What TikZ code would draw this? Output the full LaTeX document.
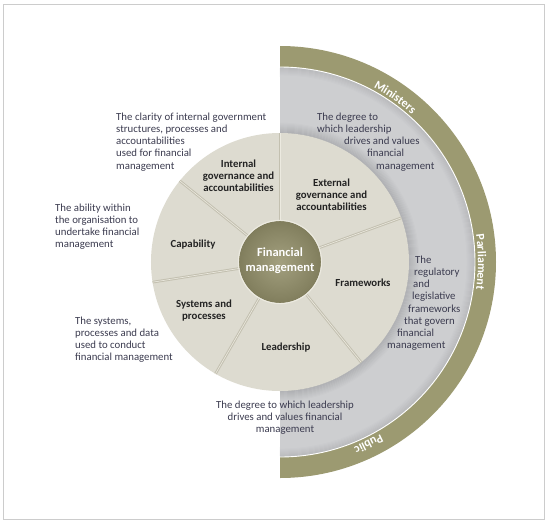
\documentclass[tikz,border=0pt]{standalone}
\usepackage{fontspec}
\setmainfont{Carlito}
\usetikzlibrary{decorations.text}
\definecolor{ringc}{HTML}{9C9A71}
\definecolor{greyc}{HTML}{CDCED0}
\definecolor{greydk}{HTML}{A9AAAD}
\definecolor{piec}{HTML}{DDDBD0}
\definecolor{divc}{HTML}{C3C0B0}
\definecolor{framec}{HTML}{CCCCCC}
\definecolor{descc}{HTML}{3B3B4F}
\definecolor{labc}{HTML}{232323}
\definecolor{fmA}{HTML}{A3A07F}
\definecolor{fmB}{HTML}{858261}
\definecolor{fmC}{HTML}{5E5B3C}
\definecolor{haloc}{HTML}{ECEAE0}
\pgfdeclareradialshading{fmshade}{\pgfpoint{0bp}{0bp}}{color(0bp)=(fmA); color(22bp)=(fmB); color(46bp)=(fmC); color(50bp)=(fmC)}
\tikzset{
  desc/.style={font=\fontsize{10.8}{12.2}\selectfont, text=descc, align=left, inner sep=0pt, anchor=north west},
  lab/.style={font=\fontsize{10.8}{12}\selectfont\bfseries, text=labc, align=center, inner sep=0pt},
  title/.style={font=\fontsize{12.5}{15}\selectfont\bfseries, text=white, align=center, inner sep=0pt},
  ringlab/.style={font=\fontsize{12}{14}\selectfont\bfseries, text=white, inner sep=0pt},
  ringtext/.style={decorate, decoration={text along path, text={|\fontsize{12}{14}\selectfont\bfseries|#1}, text align=center, text color=white}}
}
\begin{document}
\begin{tikzpicture}[x=1pt,y=1pt]
\useasboundingbox (-280,-261) rectangle (268,262);
\draw[framec, line width=1pt] (-276,258) rectangle (264,-257);
% grey half disc
\fill[greyc] (0,-195) arc[start angle=-90,end angle=90,radius=195] -- cycle;
\foreach \i in {0,...,8}{
  \pgfmathsetmacro{\p}{(8-\i)*7}
  \draw[greydk!\p!greyc, line width=1.1pt] (0,{-(194-\i)}) arc[start angle=-90,end angle=90,radius={194-\i}];
}
% olive ring
\fill[ringc] (0,216) arc[start angle=90,end angle=-90,radius=216] -- (0,-195) arc[start angle=-90,end angle=90,radius=195] -- cycle;
\draw[white, line width=0.9pt] (0,-195) arc[start angle=-90,end angle=90,radius=195];
% shadow around the pie
\begin{scope}
\clip (0,-200) rectangle (200,200);
\foreach \i in {0,...,11}{
  \pgfmathsetmacro{\p}{(11-\i)*8}
  \draw[greydk!\p!greyc, line width=1.1pt] (0,0) circle ({129+\i});
}
\end{scope}
% pie
\fill[piec] (0,0) circle (129);
\foreach \a in {20,90,141,189,240,309}{
  \draw[divc, line width=2.6pt] (\a:41) -- (\a:129);
  \draw[haloc, line width=0.6pt] (\a:41) -- (\a:129);
}
% centre
\shade[shading=fmshade] (0,0) circle (41);
\draw[haloc, line width=1.1pt] (0,0) circle (41.6);
\node[title] (fm) at (0,1.5) {Financial\\management};
% ring labels
\path[ringtext=Ministers] (70:198) arc[start angle=70,end angle=40,radius=198];
\path[ringtext=Parliament] (25:198) arc[start angle=25,end angle=-25,radius=198];
\node[ringlab, rotate=-154] (pub) at (-64:203) {Public};
% slice labels
\node[lab] (lint) at (-41.5,86.5) {Internal\\governance and\\accountabilities};
\node[lab] (lext) at (51.5,67) {External\\governance and\\accountabilities};
\node[lab] (lcap) at (-87,17) {Capability};
\node[lab] (lfw) at (83,-21) {Frameworks};
\node[lab] (lsys) at (-76,-49) {Systems and\\processes};
\node[lab] (llead) at (6,-86) {Leadership};
% descriptions
\node[desc] (dint) at (-164,149.5) {\makebox[150pt][s]{The clarity of internal government}\\structures, processes and\\accountabilities\\used for financial\\management};
\node[desc] (dcap) at (-225,58.5) {The ability within\\the organisation to\\undertake financial\\management};
\node[desc] (dsys) at (-205,-54.5) {The systems,\\processes and data\\used to conduct\\financial management};
\node[desc] (dext) at (37,149.5) {The degree to\\which leadership\\\hspace*{27pt}drives and values\\\hspace*{50pt}financial\\\hspace*{59pt}management};
\node[desc] (dfw) at (107,6.5) {\hspace*{28pt}The\\\hspace*{27pt}regulatory\\\hspace*{26pt}and\\\hspace*{25pt}legislative\\\hspace*{21pt}frameworks\\\hspace*{17pt}that govern\\\hspace*{10pt}financial\\management};
\node[desc, align=center, anchor=north] (dlead) at (5,-138.5) {The degree to which leadership\\drives and values financial\\management};
\end{tikzpicture}
\end{document}
